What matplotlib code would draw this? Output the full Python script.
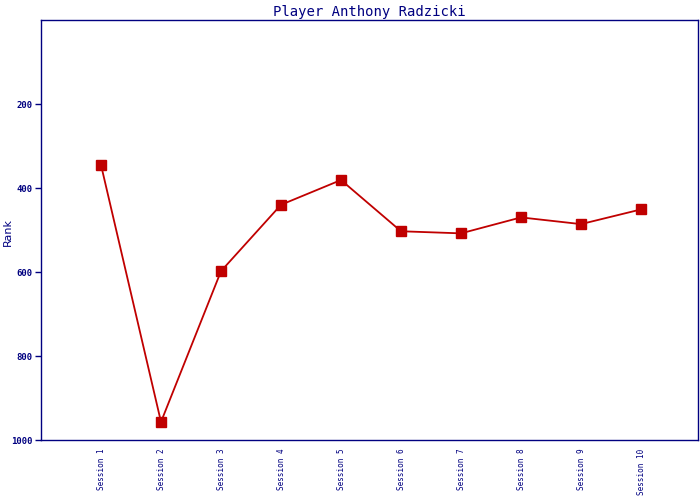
import matplotlib
matplotlib.use("Agg")
import matplotlib.pyplot as plt

sessions = ["Session 1", "Session 2", "Session 3", "Session 4", "Session 5",
            "Session 6", "Session 7", "Session 8", "Session 9", "Session 10"]
ranks = [345, 957, 598, 440, 381, 503, 508, 470, 486, 451]
yticks = [200, 400, 600, 800, 1000]

navy = "#000080"
red = "#c00000"

fig = plt.figure(figsize=(7, 5), dpi=100)
ax = fig.add_axes([41/700, 1 - 440/500, (698-41)/700, (440-20)/500])

x = list(range(len(sessions)))
ax.plot(x, ranks, color=red, linewidth=1.3, marker="s", markersize=7.5,
        markerfacecolor=red, markeredgecolor=red)

ax.set_xlim(-1, 9.95)
ax.set_ylim(1000, 0)
ax.set_yticks(yticks)
ax.set_yticklabels([str(v) for v in yticks], fontsize=6.5, fontweight="bold",
                   family="DejaVu Sans Mono", color=navy)
ax.set_xticks(x)
ax.set_xticklabels(sessions, rotation=90, fontsize=5.5, family="DejaVu Sans Mono",
                   color=navy, va="top")
ax.tick_params(axis="x", length=0, pad=6)
ax.tick_params(axis="y", length=4, color=navy, width=1, pad=2)
for s in ax.spines.values():
    s.set_color(navy)
    s.set_linewidth(1)

ax.set_title("Player Anthony Radzicki", fontsize=10, family="DejaVu Sans Mono",
             color=navy, pad=3)
fig.text(8/700, 1 - 232/500, "Rank", rotation=90, fontsize=8, color=navy,
         ha="center", va="center")

fig.savefig("out.png", dpi=100)
